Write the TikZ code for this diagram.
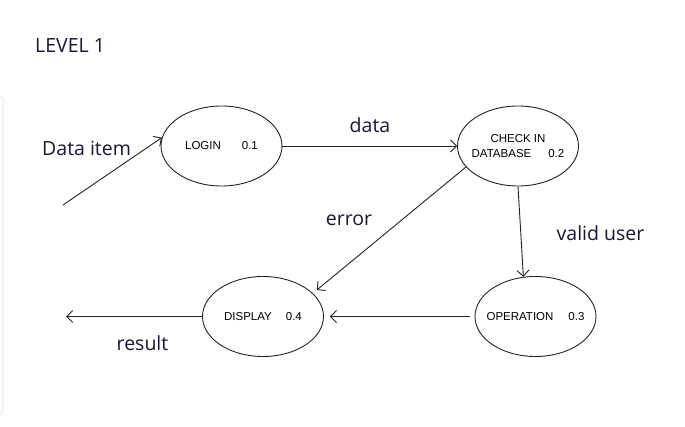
\documentclass[tikz,border=0pt]{standalone}
\usepackage{fontspec}
\setmainfont{Open Sans}
\newfontfamily\procfont{Liberation Sans}
\usetikzlibrary{shapes.geometric,arrows.meta}
\definecolor{labelink}{RGB}{22,22,48}
\definecolor{lineink}{RGB}{34,34,34}
\tikzset{
	process/.style={ellipse,draw=lineink,line width=0.9pt,minimum width=121pt,minimum height=80pt,inner ysep=0pt,inner xsep=-8pt,align=center,font=\procfont\fontsize{11.5}{15}\selectfont},
	flowlabel/.style={inner sep=0pt,anchor=base,text=labelink,font=\fontsize{19.5}{23}\selectfont},
	flow/.style={draw=lineink,line width=0.9pt,-{Straight Barb[length=6pt,width=12pt]}}
}
\begin{document}
\begin{tikzpicture}[x=1pt,y=-1pt]
\useasboundingbox (0,0) rectangle (685,427);
\draw[gray!15,line width=1.2pt,rounded corners=5pt] (-20,95) rectangle (3,415);
\path (221.5,146) node(Login) [process] {LOGIN\hspace{21pt}0.1}
		(518,146) node(Check) [process] {CHECK IN\\DATABASE\hspace{17pt}0.2}
		(535.5,316.5) node(Operation) [process] {OPERATION\hspace{15pt}0.3}
		(263,316.5) node(Display) [process] {DISPLAY\hspace{14pt}0.4};
\path (35,53) node(Level) [flowlabel,anchor=base west] {LEVEL 1}
		(42,156) node(DataLbl) [flowlabel,anchor=base west] {Data item}
		(370,133) node(DataFlowLbl) [flowlabel] {data}
		(349,226) node(ErrorLbl) [flowlabel] {error}
		(600.5,241) node(ValidLbl) [flowlabel] {valid user}
		(142.5,350) node(ResultLbl) [flowlabel] {result};
\coordinate (DataIn) at (63,205);
\coordinate (ResultOut) at (66,316.5);
\draw[flow] (DataIn) -- (Login.172);
\draw[flow] (Login.east) -- (Check.west);
\draw[flow,shorten >=5pt] (Check.202) -- (Display.25);
\draw[flow] (Check.south) -- (Operation.107);
\draw[flow,shorten <=5pt,shorten >=6pt] (Operation.west) -- (Display.east);
\draw[flow] (Display.west) -- (ResultOut);
\end{tikzpicture}
\end{document}
